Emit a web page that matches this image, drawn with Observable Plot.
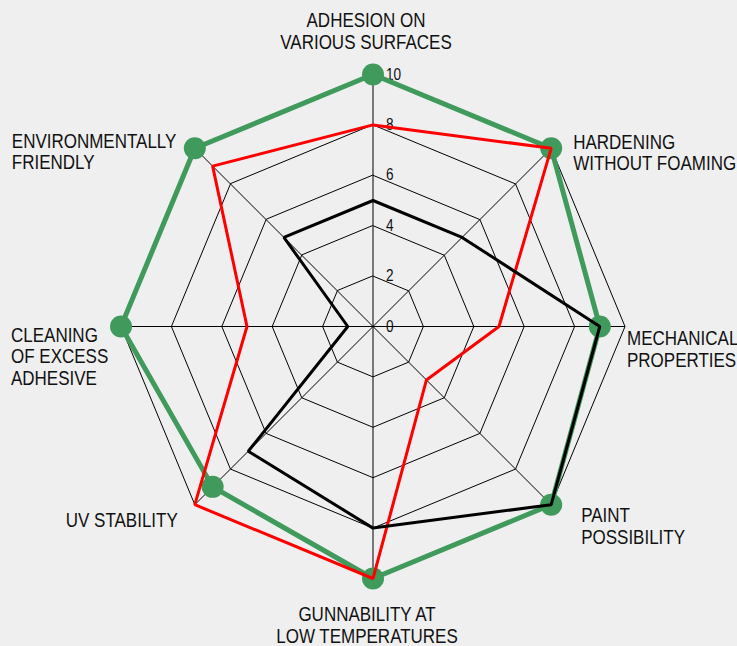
<!DOCTYPE html>
<html>
<head>
<meta charset="utf-8">
<script src="https://cdn.jsdelivr.net/npm/d3@7"></script>
<script src="https://cdn.jsdelivr.net/npm/@observablehq/plot@0.6"></script>
<style>
  html, body { margin: 0; padding: 0; background: #efefef; }
  #chart svg { display: block; }
</style>
</head>
<body>
<div id="chart"></div>
<script>
// ---- data ----
const categories = [
  "ADHESION ON\nVARIOUS SURFACES",
  "HARDENING\nWITHOUT FOAMING",
  "MECHANICAL\nPROPERTIES",
  "PAINT\nPOSSIBILITY",
  "GUNNABILITY AT\nLOW TEMPERATURES",
  "UV STABILITY",
  "CLEANING\nOF EXCESS\nADHESIVE",
  "ENVIRONMENTALLY\nFRIENDLY"
];
const greenValues = [10, 10, 9, 10, 10, 9, 10, 10];
const redValues   = [8, 10, 5, 3, 10, 10, 5, 9];
const blackValues = [5, 5, 9, 10, 8, 7, 1, 5];
const ringTicks = [0, 2, 4, 6, 8, 10];
const maxValue = 10;

// ---- geometry helpers ----
const n = categories.length;
const angle = i => (i * 2 * Math.PI) / n;
const px = (i, r) => r * Math.sin(angle(i));
const py = (i, r) => r * Math.cos(angle(i));

const unit = 25.2; // pixels per value unit
const W = 737, H = 646, cx = 372.5, cy = 326;

const toPoints = vals => vals.map((v, i) => ({i, v}));
const rings = ringTicks.filter(t => t > 0).flatMap(t => categories.map((c, i) => ({ring: t, i})));

// label layout (pixel offsets from the value-10 vertex)
const labelLayout = [
  {textAnchor: "middle", dx: -7,   dy: -26},
  {textAnchor: "start",  dx: 22,   dy: 22},
  {textAnchor: "start",  dx: 2,    dy: 40},
  {textAnchor: "start",  dx: 30,   dy: 39},
  {textAnchor: "middle", dx: -6,   dy: 64},
  {textAnchor: "end",    dx: -17,  dy: 22},
  {textAnchor: "start",  dx: -110, dy: 58},
  {textAnchor: "start",  dx: -183, dy: 21}
];

const FONT = "'Liberation Sans', Arial, sans-serif";

const series = [
  {vals: greenValues, color: "#3f9a5c", width: 5, dots: true},
  {vals: redValues,   color: "#ff0000", width: 3, dots: false},
  {vals: blackValues, color: "#000000", width: 3, dots: false}
];

const marks = [
  // grid rings
  Plot.line(rings, {
    x: d => px(d.i, d.ring), y: d => py(d.i, d.ring), z: "ring",
    curve: "linear-closed", stroke: "#000", strokeWidth: 1
  }),
  // spokes
  Plot.link(categories.map((c, i) => i), {
    x1: 0, y1: 0, x2: i => px(i, maxValue), y2: i => py(i, maxValue),
    stroke: "#000", strokeWidth: 1
  }),
  // ring tick labels
  Plot.text(ringTicks, {
    x: 0, y: d => d, text: d => String(d), textAnchor: "start", dx: 13,
    fontSize: 16, fill: "#111", fontFamily: FONT, className: "narrow"
  })
];

for (const s of series) {
  marks.push(Plot.line(toPoints(s.vals), {
    x: d => px(d.i, d.v), y: d => py(d.i, d.v), curve: "linear-closed",
    stroke: s.color, strokeWidth: s.width, strokeLinejoin: "miter"
  }));
  if (s.dots) {
    marks.push(Plot.dot(toPoints(s.vals), {
      x: d => px(d.i, d.v), y: d => py(d.i, d.v), r: 11, fill: s.color, stroke: "none"
    }));
  }
}

categories.forEach((c, i) => {
  const L = labelLayout[i];
  marks.push(Plot.text([i], {
    x: j => px(j, maxValue), y: j => py(j, maxValue), text: j => categories[j],
    textAnchor: L.textAnchor, dx: L.dx, dy: L.dy, lineAnchor: "bottom",
    lineHeight: 1.07, fontSize: 20, fill: "#111", fontFamily: FONT, className: "narrow"
  }));
});

const chart = Plot.plot({
  width: W, height: H,
  margin: 0,
  x: {domain: [-cx / unit, (W - cx) / unit], axis: null},
  y: {domain: [-(H - cy) / unit, cy / unit], axis: null},
  style: {background: "#efefef", overflow: "visible"},
  marks
});
// condense the sans font horizontally to match the narrow typeface
d3.select(chart).selectAll("g[class*='narrow'] text").each(function () {
  const t = this.getAttribute("transform") || "";
  this.setAttribute("transform", t + " scale(0.85,1)");
});
document.getElementById("chart").appendChild(chart);
</script>
</body>
</html>
